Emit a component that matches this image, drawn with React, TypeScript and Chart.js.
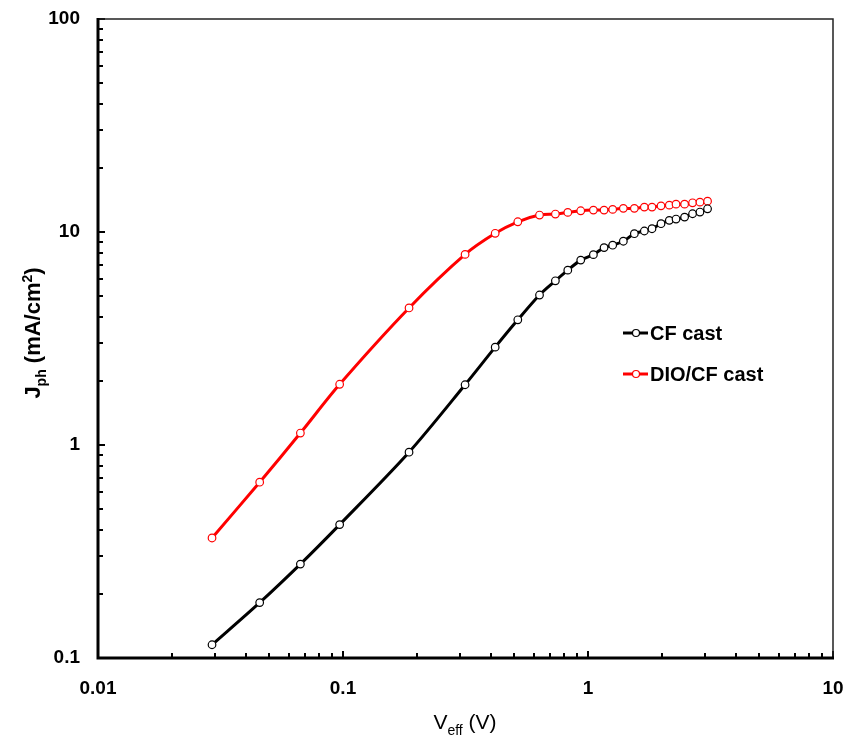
import React, { useEffect, useRef } from 'react';
import { Chart, registerables } from 'chart.js';

Chart.register(...registerables);

// ---- Data ----
const V_EFF = [0.0292, 0.0457, 0.067, 0.0969, 0.186, 0.315, 0.418, 0.517, 0.634, 0.736, 0.827, 0.934, 1.052, 1.163, 1.261, 1.394, 1.546, 1.698, 1.825, 1.986, 2.147, 2.287, 2.479, 2.672, 2.864, 3.076];
const J_CF = [0.1154, 0.182, 0.276, 0.423, 0.925, 1.918, 2.88, 3.87, 5.06, 5.9, 6.62, 7.38, 7.83, 8.45, 8.67, 9.05, 9.82, 10.11, 10.36, 10.94, 11.34, 11.5, 11.75, 12.18, 12.41, 12.85];
const J_DIO = [0.366, 0.669, 1.138, 1.928, 4.4, 7.85, 9.86, 11.17, 12.01, 12.14, 12.36, 12.58, 12.67, 12.67, 12.77, 12.91, 12.91, 13.09, 13.09, 13.27, 13.37, 13.51, 13.51, 13.71, 13.81, 13.96];

const SERIES_NAMES = ['CF cast', 'DIO/CF cast'];
const SERIES_COLORS = ['#000000', '#ff0000'];

const X_MAJOR = [0.01, 0.1, 1, 10];
const X_LABELS = ['0.01', '0.1', '1', '10'];
const Y_MAJOR = [0.1, 1, 10, 100];
const Y_LABELS = ['0.1', '1', '10', '100'];

const FONT = '"Liberation Sans", Arial, Helvetica, sans-serif';

function decadeTicks(majors: number[]) {
  const out: { value: number; major: boolean }[] = [];
  for (let i = 0; i < majors.length; i++) {
    out.push({ value: majors[i], major: true });
    if (i < majors.length - 1) {
      for (let m = 2; m <= 9; m++) out.push({ value: +(majors[i] * m).toPrecision(6), major: false });
    }
  }
  return out;
}

function labelFor(value: number, majors: number[], labels: string[]) {
  const i = majors.findIndex((m) => Math.abs(m - value) / m < 1e-6);
  return i >= 0 ? labels[i] : '';
}

const decorPlugin = {
  id: 'decor',
  afterDatasetsDraw(chart: any) {
    const ctx = chart.ctx;
    const { left, right, top, bottom } = chart.chartArea;
    ctx.save();
    // inside tick marks
    ctx.strokeStyle = '#000';
    ctx.lineWidth = 2;
    const xs = chart.scales.x;
    xs.ticks.forEach((t: any) => {
      const px = Math.round(xs.getPixelForValue(t.value));
      const len = t.major ? 7 : 5;
      ctx.beginPath();
      ctx.moveTo(px, bottom);
      ctx.lineTo(px, bottom - len);
      ctx.stroke();
    });
    const ys = chart.scales.y;
    ys.ticks.forEach((t: any) => {
      const py = Math.round(ys.getPixelForValue(t.value));
      const len = t.major ? 7 : 5;
      ctx.beginPath();
      ctx.moveTo(left, py);
      ctx.lineTo(left + len, py);
      ctx.stroke();
    });
    // frame: thin top/right
    ctx.strokeStyle = '#222';
    ctx.lineWidth = 1.5;
    ctx.beginPath();
    ctx.moveTo(left, top);
    ctx.lineTo(right, top);
    ctx.lineTo(right, bottom);
    ctx.stroke();
    // thick left/bottom axes
    ctx.strokeStyle = '#000';
    ctx.lineWidth = 3;
    ctx.beginPath();
    ctx.moveTo(left, top - 1);
    ctx.lineTo(left, bottom);
    ctx.lineTo(right + 1, bottom);
    ctx.stroke();
    ctx.restore();
  },
  afterDraw(chart: any) {
    const ctx = chart.ctx;
    ctx.save();
    ctx.fillStyle = '#000';
    ctx.textBaseline = 'alphabetic';
    // X axis title: V_eff (V)
    {
      const big = `400 21px ${FONT}`;
      const small = `400 14px ${FONT}`;
      const parts = [
        { t: 'V', f: big, dy: 0 },
        { t: 'eff', f: small, dy: 6 },
        { t: ' (V)', f: big, dy: 0 },
      ];
      let w = 0;
      parts.forEach((p) => { ctx.font = p.f; w += ctx.measureText(p.t).width; });
      let x = 465 - w / 2;
      const y = 729;
      ctx.textAlign = 'left';
      parts.forEach((p) => { ctx.font = p.f; ctx.fillText(p.t, x, y + p.dy); x += ctx.measureText(p.t).width; });
    }
    // Y axis title: J_ph (mA/cm^2)
    {
      const big = `700 22px ${FONT}`;
      const small = `700 14px ${FONT}`;
      const parts = [
        { t: 'J', f: big, dy: 0 },
        { t: 'ph', f: small, dy: 6 },
        { t: ' (mA/cm', f: big, dy: 0 },
        { t: '2', f: small, dy: -8 },
        { t: ')', f: big, dy: 0 },
      ];
      let w = 0;
      parts.forEach((p) => { ctx.font = p.f; w += ctx.measureText(p.t).width; });
      ctx.translate(40, 333);
      ctx.rotate(-Math.PI / 2);
      let x = -w / 2;
      ctx.textAlign = 'left';
      parts.forEach((p) => { ctx.font = p.f; ctx.fillText(p.t, x, p.dy); x += ctx.measureText(p.t).width; });
      ctx.setTransform(1, 0, 0, 1, 0, 0);
    }
    // Legend
    chart.data.datasets.forEach((ds: any, i: number) => {
      const y = 333 + i * 41;
      ctx.strokeStyle = ds.borderColor;
      ctx.lineWidth = 3;
      ctx.beginPath();
      ctx.moveTo(623, y);
      ctx.lineTo(648, y);
      ctx.stroke();
      ctx.beginPath();
      ctx.arc(636, y, 3.5, 0, Math.PI * 2);
      ctx.fillStyle = '#fff';
      ctx.fill();
      ctx.lineWidth = 1.2;
      ctx.stroke();
      ctx.fillStyle = '#000';
      ctx.font = `700 20px ${FONT}`;
      ctx.textAlign = 'left';
      ctx.textBaseline = 'middle';
      ctx.fillText(ds.label, 650, y + 1);
    });
    ctx.restore();
  },
};

export default function App() {
  const canvasRef = useRef<HTMLCanvasElement | null>(null);

  useEffect(() => {
    document.body.style.margin = '0';
    const canvas = canvasRef.current;
    if (!canvas) return;
    const seriesY = [J_CF, J_DIO];
    const chart = new Chart(canvas, {
      type: 'line',
      data: {
        datasets: seriesY.map((ys, si) => ({
          label: SERIES_NAMES[si],
          data: V_EFF.map((x, i) => ({ x, y: ys[i] })),
          borderColor: SERIES_COLORS[si],
          backgroundColor: '#ffffff',
          borderWidth: 3,
          pointRadius: 3.8,
          pointBorderWidth: 1.2,
          pointBackgroundColor: '#ffffff',
          pointBorderColor: SERIES_COLORS[si],
          tension: 0.3,
          fill: false,
        })),
      },
      options: {
        animation: false,
        responsive: true,
        maintainAspectRatio: false,
        layout: { padding: { top: 19, right: 15, left: 0, bottom: 0 } },
        plugins: { legend: { display: false }, tooltip: { enabled: false } },
        scales: {
          x: {
            type: 'logarithmic',
            min: 0.01,
            max: 10,
            grid: { display: false },
            border: { display: false },
            afterBuildTicks: (scale: any) => { scale.ticks = decadeTicks(X_MAJOR); },
            afterFit: (scale: any) => {
              scale.height = 82;
              scale.paddingLeft = 0;
              scale.paddingRight = 0;
            },
            ticks: {
              autoSkip: false,
              maxRotation: 0,
              padding: 11,
              color: '#000',
              font: { family: FONT, size: 19, weight: 'bold' },
              callback: (v: any) => labelFor(Number(v), X_MAJOR, X_LABELS),
            },
          },
          y: {
            type: 'logarithmic',
            min: 0.1,
            max: 100,
            grid: { display: false },
            border: { display: false },
            afterBuildTicks: (scale: any) => { scale.ticks = decadeTicks(Y_MAJOR); },
            afterFit: (scale: any) => {
              scale.width = 98;
              scale.paddingTop = 0;
              scale.paddingBottom = 0;
            },
            ticks: {
              autoSkip: false,
              padding: 10,
              color: '#000',
              font: { family: FONT, size: 19, weight: 'bold' },
              callback: (v: any) => labelFor(Number(v), Y_MAJOR, Y_LABELS),
            },
          },
        },
      } as any,
      plugins: [decorPlugin],
    });
    return () => chart.destroy();
  }, []);

  return (
    <div style={{ position: 'relative', width: 848, height: 740, background: '#fff' }}>
      <canvas ref={canvasRef} />
    </div>
  );
}
